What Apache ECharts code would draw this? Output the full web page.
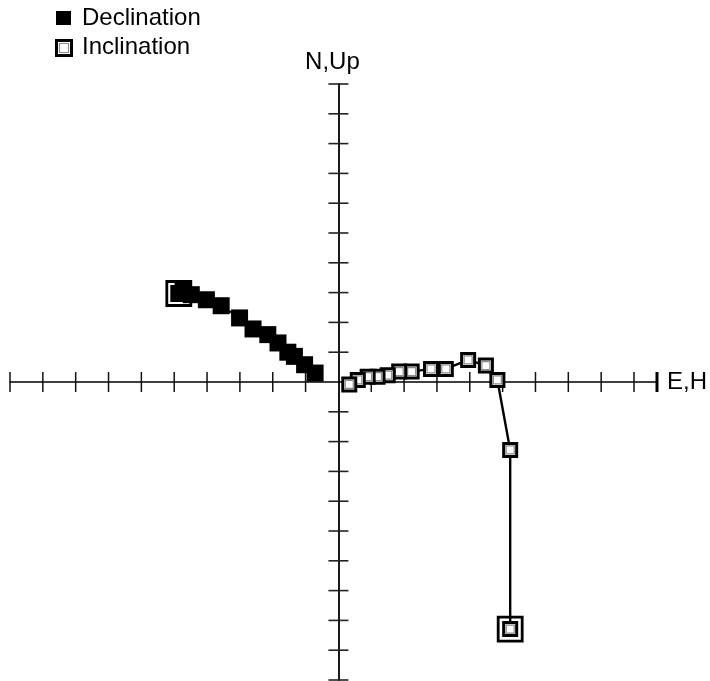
<!DOCTYPE html>
<html>
<head>
<meta charset="utf-8">
<script src="https://cdn.jsdelivr.net/npm/echarts@6/dist/echarts.min.js"></script>
<style>
  html, body { margin: 0; padding: 0; background: #fff; }
  #chart { width: 710px; height: 681px; }
</style>
</head>
<body>
<div id="chart"></div>
<script>
// Orthogonal vector end-point plot (demagnetisation steps, NRM first)
const declE = [-4.86, -4.73, -4.48, -4.02, -3.57, -3.01, -2.60, -2.15, -1.84, -1.54, -1.34, -1.03, -0.71];
const declN = [2.97, 3.04, 2.93, 2.76, 2.56, 2.15, 1.78, 1.59, 1.31, 1.00, 0.86, 0.58, 0.30];
const inclH = [5.23, 5.23, 4.84, 4.49, 3.95, 3.27, 2.82, 2.23, 1.85, 1.50, 1.19, 0.89, 0.59, 0.33];
const inclUp = [-8.29, -2.28, 0.07, 0.55, 0.74, 0.44, 0.44, 0.35, 0.35, 0.23, 0.18, 0.18, 0.07, -0.08];

// Cross ticks along both axes, one unit apart
const xTicks = [-10, -9, -8, -7, -6, -5, -4, -3, -2, -1, 1, 2, 3, 4, 5, 6, 7, 8, 9];
const yTicks = [-10, -9, -8, -7, -6, -5, -4, -3, -2, -1, 1, 2, 3, 4, 5, 6, 7, 8, 9, 10];
const xMin = -10, xMax = 9.7, yMin = -10, yMax = 10;

const decl = declE.map((e, i) => [e, declN[i]]);
const incl = inclH.map((h, i) => [h, inclUp[i]]);

const FONT = '"Liberation Sans", Arial, Helvetica, sans-serif';

const chart = echarts.init(document.getElementById('chart'), null, { renderer: 'canvas' });

// Open square: heavy black frame with a thin grey inner outline
function openSquare(params, api) {
  const p = api.coord([api.value(0), api.value(1)]);
  return {
    type: 'group',
    children: [
      { type: 'rect', shape: { x: p[0] - 6.5, y: p[1] - 6.5, width: 13, height: 13 },
        style: { fill: '#fff', stroke: '#000', lineWidth: 3 } },
      { type: 'rect', shape: { x: p[0] - 4, y: p[1] - 4, width: 8, height: 8 },
        style: { fill: '#fff', stroke: '#8a8a8a', lineWidth: 1.2 } }
    ]
  };
}

chart.setOption({
  animation: false,
  backgroundColor: '#fff',
  grid: { left: 10, top: 84, width: 648, height: 596, containLabel: false },
  xAxis: {
    type: 'value', min: xMin, max: xMax,
    name: 'E,H', nameLocation: 'end', nameGap: 10,
    nameTextStyle: { fontFamily: FONT, fontSize: 24, color: '#000', padding: [0, 0, 10, 0] },
    axisLine: { show: true, onZero: true, lineStyle: { color: '#000', width: 1.5 } },
    axisTick: { show: false }, axisLabel: { show: false }, splitLine: { show: false }
  },
  yAxis: {
    type: 'value', min: yMin, max: yMax,
    name: 'N,Up', nameLocation: 'end', nameGap: 10,
    nameTextStyle: { fontFamily: FONT, fontSize: 24, color: '#000', padding: [0, 12, 0, 0] },
    axisLine: { show: true, onZero: true, lineStyle: { color: '#000', width: 1.8 } },
    axisTick: { show: false }, axisLabel: { show: false }, splitLine: { show: false }
  },
  graphic: [
    { type: 'rect', shape: { x: 56, y: 11, width: 15, height: 14 }, style: { fill: '#000' } },
    { type: 'text', x: 82, y: 18.5, style: { text: 'Declination', font: '24px ' + FONT, fill: '#000', verticalAlign: 'middle' } },
    { type: 'rect', shape: { x: 56.5, y: 40.5, width: 15, height: 15 }, style: { fill: '#fff', stroke: '#000', lineWidth: 3 } },
    { type: 'rect', shape: { x: 59.5, y: 43.5, width: 9, height: 9 }, style: { fill: '#fff', stroke: '#8a8a8a', lineWidth: 1.2 } },
    { type: 'text', x: 82, y: 47, style: { text: 'Inclination', font: '24px ' + FONT, fill: '#000', verticalAlign: 'middle' } }
  ],
  series: [
    {
      name: 'xTicks', type: 'scatter', silent: true, z: 1,
      data: xTicks.map(v => [v, 0]),
      symbol: 'rect', symbolSize: [1.5, 20], itemStyle: { color: '#111', opacity: 1 }
    },
    {
      name: 'xEnd', type: 'scatter', silent: true, z: 1,
      data: [[xMax, 0]],
      symbol: 'rect', symbolSize: [3, 20], itemStyle: { color: '#000', opacity: 1 }
    },
    {
      name: 'yTicks', type: 'scatter', silent: true, z: 1,
      data: yTicks.map(v => [0, v]),
      symbol: 'rect', symbolSize: [20, 1.6], itemStyle: { color: '#222', opacity: 1 }
    },
    {
      name: 'NRM', type: 'scatter', silent: true, z: 2,
      data: [decl[0], incl[0]],
      symbol: 'rect', symbolSize: 24,
      itemStyle: { color: '#fff', borderColor: '#000', borderWidth: 2.8, opacity: 1 }
    },
    {
      name: 'Declination', type: 'line', z: 3,
      data: decl, showAllSymbol: true,
      symbol: 'rect', symbolSize: 17,
      itemStyle: { color: '#000', opacity: 1 },
      lineStyle: { color: '#000', width: 2 }
    },
    {
      name: 'InclinationPath', type: 'line', z: 3,
      data: incl, symbol: 'none',
      lineStyle: { color: '#000', width: 2.4 }
    },
    {
      name: 'Inclination', type: 'custom', z: 4,
      data: incl, renderItem: openSquare
    }
  ]
});
</script>
</body>
</html>
